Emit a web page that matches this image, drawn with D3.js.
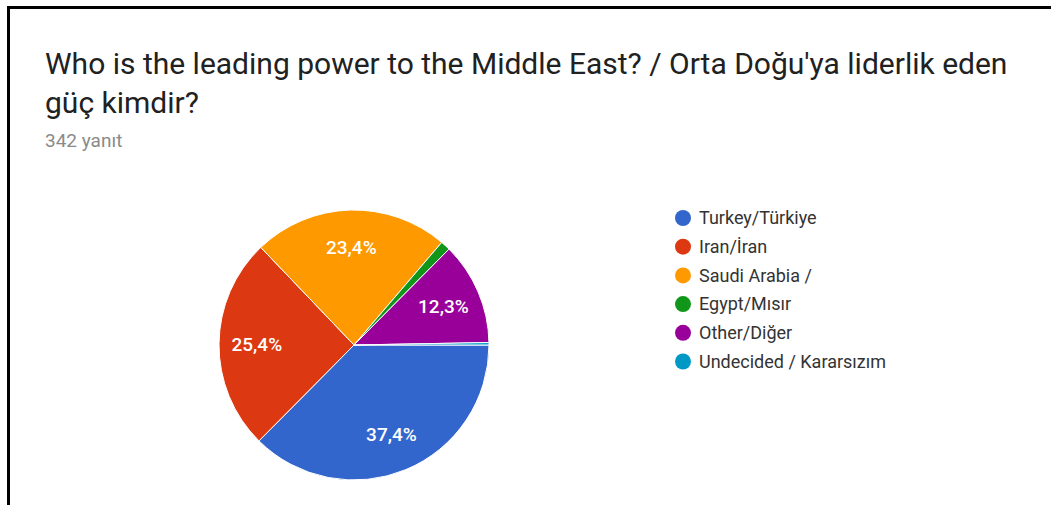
<!DOCTYPE html>
<html lang="tr">
<head>
    <meta charset="UTF-8">
    <title>Who is the leading power to the Middle East?</title>
    <script src="https://d3js.org/d3.v7.min.js"></script>
    <style>
        html, body { margin: 0; padding: 0; background: #fff; }
        body { font-family: Roboto, Arial, sans-serif; }
        .title { font-size: 30px; fill: #212121; }
        .sub { font-size: 19px; fill: #8a8a8a; }
        .legend text { font-size: 18px; fill: #333; }
        .label { font-size: 19px; fill: #fff; font-weight: 500; }
    </style>
</head>
<body>
    <div id="chart"></div>
    <script>
        // answers (342 responses)
        const categories = ["Turkey/Türkiye", "Iran/İran", "Saudi Arabia /", "Egypt/Mısır", "Other/Diğer", "Undecided / Kararsızım"];
        const counts = [128, 87, 80, 4, 42, 1];
        const colors = ["#3366cc", "#dc3912", "#ff9900", "#109618", "#990099", "#0099c6"];
        const titleLines = ["Who is the leading power to the Middle East? / Orta Doğu'ya liderlik eden", "güç kimdir?"];
        const responses = "342 yanıt";

        const W = 1051, H = 505;
        const svg = d3.select("#chart").append("svg")
            .attr("width", W)
            .attr("height", H);

        // frame (top + left edges of the screenshot)
        svg.append("rect").attr("x", 7).attr("y", 6).attr("width", W - 7).attr("height", 3).attr("fill", "#000");
        svg.append("rect").attr("x", 7).attr("y", 6).attr("width", 3).attr("height", H - 6).attr("fill", "#000");

        // title
        svg.selectAll(".title")
            .data(titleLines)
            .enter().append("text")
            .attr("class", "title")
            .attr("x", 45)
            .attr("y", (d, i) => 74 + i * 39)
            .text(d => d);

        svg.append("text")
            .attr("class", "sub")
            .attr("x", 45)
            .attr("y", 147)
            .text(responses);

        // pie
        const cx = 354, cy = 345, r = 135;
        const total = d3.sum(counts);
        const pie = d3.pie().sort(null)
            .startAngle(Math.PI / 2)
            .endAngle(Math.PI / 2 + 2 * Math.PI);
        const arcs = pie(counts);
        const arc = d3.arc().innerRadius(0).outerRadius(r);
        const labelArc = d3.arc().innerRadius(r * 0.72).outerRadius(r * 0.72);

        const g = svg.append("g").attr("transform", `translate(${cx},${cy})`);

        g.selectAll("path")
            .data(arcs)
            .enter().append("path")
            .attr("d", arc)
            .attr("fill", (d, i) => colors[i])
            .attr("stroke", "#fff")
            .attr("stroke-width", 1);

        const fmt = v => (Math.round(v / total * 1000) / 10).toFixed(1).replace(".", ",") + "%";

        g.selectAll(".label")
            .data(arcs.filter(d => d.value / total > 0.05))
            .enter().append("text")
            .attr("class", "label")
            .attr("transform", d => `translate(${labelArc.centroid(d)})`)
            .attr("text-anchor", "middle")
            .attr("dy", "0.35em")
            .text(d => fmt(d.value));

        // legend
        const legend = svg.append("g").attr("class", "legend")
            .selectAll("g")
            .data(categories)
            .enter().append("g")
            .attr("transform", (d, i) => `translate(683,${218 + i * 28.7})`);

        legend.append("circle")
            .attr("r", 8)
            .attr("fill", (d, i) => colors[i]);

        legend.append("text")
            .attr("x", 16)
            .attr("dy", "0.35em")
            .text(d => d);
    </script>
</body>
</html>
